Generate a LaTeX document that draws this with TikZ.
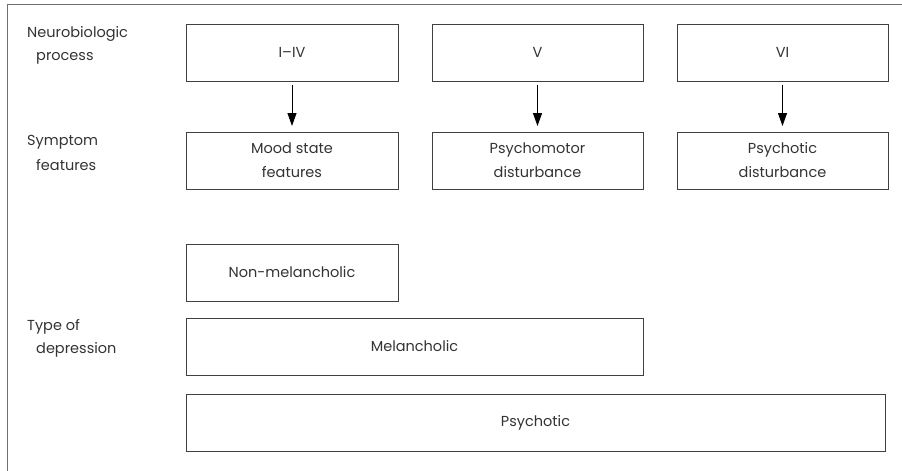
\documentclass[tikz,border=0pt]{standalone}
\usepackage{fontspec}
\setmainfont{Poppins}
\usetikzlibrary{arrows.meta}
\definecolor{boxline}{HTML}{404040}
\definecolor{txt}{HTML}{333333}
\definecolor{frame}{HTML}{707070}
\tikzset{
  box/.style={draw=boxline, line width=0.9pt, rectangle, inner sep=0pt, outer sep=0pt,
    text=txt, font=\fontsize{14.5}{24}\selectfont, align=center},
  lbl/.style={anchor=west, inner sep=0pt, text=txt, font=\fontsize{14.5}{23}\selectfont},
  flow/.style={draw=black, line width=1pt, -{Triangle[length=13pt,width=9pt]},
    shorten <=4pt, shorten >=6pt}
}
\begin{document}
\begin{tikzpicture}[x=1pt,y=-1pt]
\useasboundingbox (0,0) rectangle (902,471);
\draw[frame, line width=1pt] (7,471) -- (7,4) -- (902,4);
% row labels
\node[lbl] (l1a) at (27,34) {Neurobiologic};
\node[lbl] (l1b) at (36,58) {process};
\node[lbl] (l2a) at (27,142) {Symptom};
\node[lbl] (l2b) at (36,165) {features};
\node[lbl] (l3a) at (27,327) {Type of};
\node[lbl] (l3b) at (36,350) {depression};
% neurobiologic process
\node[box, minimum width=212pt, minimum height=57pt] (p1) at (292,52.5) {I–IV};
\node[box, minimum width=211pt, minimum height=57pt] (p2) at (537.5,52.5) {V};
\node[box, minimum width=211pt, minimum height=57pt] (p3) at (782.5,52.5) {VI};
% symptom features
\node[box, minimum width=212pt, minimum height=57pt] (s1) at (292,160.5) {Mood state\\features};
\node[box, minimum width=211pt, minimum height=57pt] (s2) at (537.5,160.5) {Psychomotor\\disturbance};
\node[box, minimum width=211pt, minimum height=57pt] (s3) at (782.5,160.5) {Psychotic\\disturbance};
% arrows
\draw[flow] (p1) -- (s1);
\draw[flow] (p2) -- (s2);
\draw[flow] (p3) -- (s3);
% types of depression
\node[box, minimum width=212pt, minimum height=57pt] (t1) at (292,272.5) {Non-melancholic};
\node[box, minimum width=457pt, minimum height=57pt] (t2) at (414.5,346.5) {Melancholic};
\node[box, minimum width=699pt, minimum height=57pt] (t3) at (535.5,422.5) {Psychotic};
\end{tikzpicture}
\end{document}
